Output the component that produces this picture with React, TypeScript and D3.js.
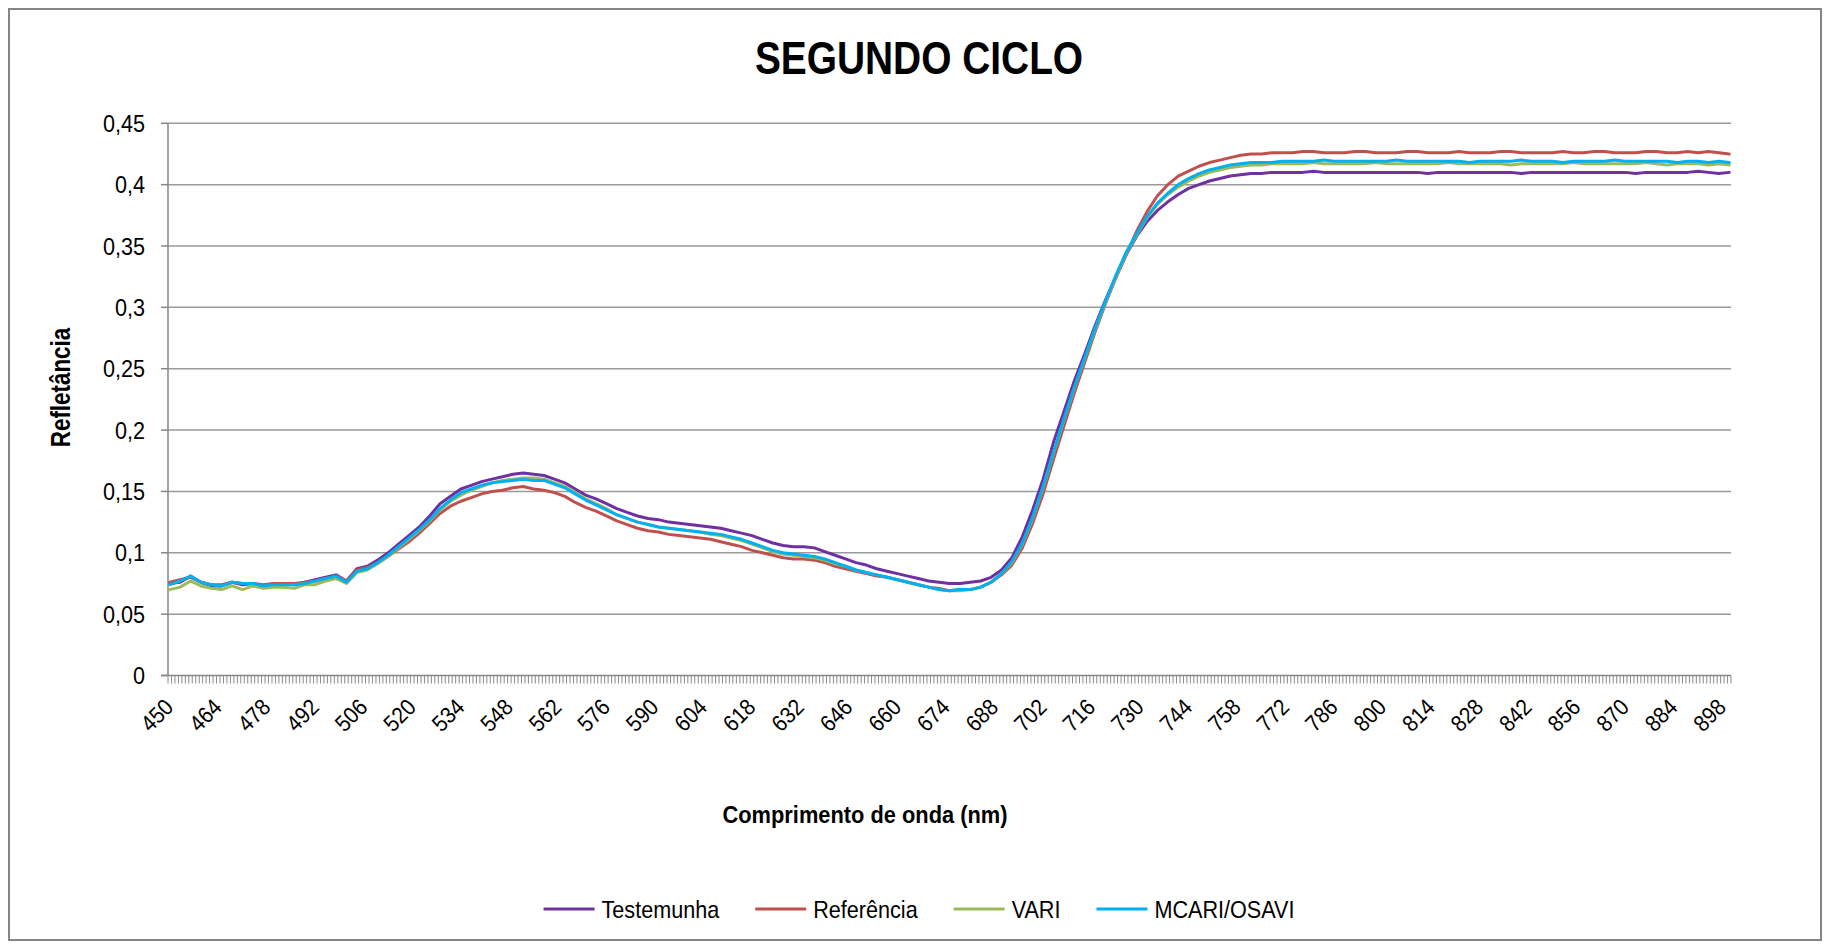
import { useEffect, useRef } from "react"
import * as d3 from "d3"

// category axis: one category per nm, labels every 14 nm
const categories = d3.range(450, 901)
const tickLabels = d3.range(450, 900, 14)
const sampleNm = d3.range(450, 901, 3)

const yTicks = [0, 0.05, 0.1, 0.15, 0.2, 0.25, 0.3, 0.35, 0.4, 0.45]
const yTickLabels = ["0", "0,05", "0,1", "0,15", "0,2", "0,25", "0,3", "0,35", "0,4", "0,45"]

const seriesNames = ["Testemunha", "Referência", "VARI", "MCARI/OSAVI"]
const seriesColors = ["#7030A0", "#C0504D", "#9BBB59", "#00B0F0"]

const testemunha = [
  0.075, 0.076, 0.081, 0.076, 0.073, 0.073, 0.076, 0.074, 0.075, 0.073,
  0.075, 0.075, 0.074, 0.076, 0.078, 0.080, 0.082, 0.077, 0.087, 0.089,
  0.094, 0.100, 0.107, 0.114, 0.121, 0.130, 0.140, 0.146, 0.152, 0.155,
  0.158, 0.160, 0.162, 0.164, 0.165, 0.164, 0.163, 0.160, 0.157, 0.152,
  0.147, 0.144, 0.140, 0.136, 0.133, 0.130, 0.128, 0.127, 0.125, 0.124,
  0.123, 0.122, 0.121, 0.120, 0.118, 0.116, 0.114, 0.111, 0.108, 0.106,
  0.105, 0.105, 0.104, 0.101, 0.098, 0.095, 0.092, 0.090, 0.087, 0.085,
  0.083, 0.081, 0.079, 0.077, 0.076, 0.075, 0.075, 0.076, 0.077, 0.080,
  0.086, 0.096, 0.113, 0.135, 0.160, 0.190, 0.215, 0.240, 0.262, 0.285,
  0.306, 0.325, 0.343, 0.358, 0.370, 0.379, 0.386, 0.392, 0.397, 0.400,
  0.403, 0.405, 0.407, 0.408, 0.409, 0.409, 0.410,
  0.410, 0.410, 0.410, 0.411, 0.410, 0.410, 0.410, 0.410, 0.410, 0.410,
  0.410, 0.410, 0.410, 0.410, 0.409, 0.410, 0.410, 0.410, 0.410, 0.410,
  0.410, 0.410, 0.410, 0.409, 0.410, 0.410, 0.410, 0.410, 0.410, 0.410,
  0.410, 0.410, 0.410, 0.410, 0.409, 0.410, 0.410, 0.410, 0.410, 0.410,
  0.411, 0.410, 0.409, 0.410,
]

const referencia = [
  0.076, 0.078, 0.080, 0.076, 0.074, 0.074, 0.076, 0.075, 0.075, 0.074,
  0.075, 0.075, 0.075, 0.076, 0.077, 0.079, 0.081, 0.077, 0.086, 0.088,
  0.092, 0.097, 0.103, 0.109, 0.116, 0.124, 0.132, 0.138, 0.142, 0.145,
  0.148, 0.150, 0.151, 0.153, 0.154, 0.152, 0.151, 0.149, 0.146, 0.141,
  0.137, 0.134, 0.130, 0.126, 0.123, 0.120, 0.118, 0.117, 0.115, 0.114,
  0.113, 0.112, 0.111, 0.109, 0.107, 0.105, 0.102, 0.100, 0.098, 0.096,
  0.095, 0.095, 0.094, 0.092, 0.089, 0.087, 0.085, 0.083, 0.081, 0.080,
  0.078, 0.076, 0.074, 0.072, 0.071, 0.069, 0.070, 0.070, 0.072, 0.076,
  0.082, 0.090, 0.104, 0.124, 0.148, 0.176, 0.203, 0.230, 0.255, 0.280,
  0.303, 0.324, 0.343, 0.362, 0.378, 0.391, 0.400, 0.407, 0.411, 0.415,
  0.418, 0.420, 0.422, 0.424, 0.425, 0.425, 0.426,
  0.426, 0.426, 0.427, 0.427, 0.426, 0.426, 0.426, 0.427, 0.427, 0.426,
  0.426, 0.426, 0.427, 0.427, 0.426, 0.426, 0.426, 0.427, 0.426, 0.426,
  0.426, 0.427, 0.427, 0.426, 0.426, 0.426, 0.426, 0.427, 0.426, 0.426,
  0.427, 0.427, 0.426, 0.426, 0.426, 0.427, 0.427, 0.426, 0.426, 0.427,
  0.426, 0.427, 0.426, 0.425,
]

const vari = [
  0.070, 0.072, 0.077, 0.073, 0.071, 0.070, 0.073, 0.070, 0.073, 0.071,
  0.072, 0.072, 0.071, 0.074, 0.074, 0.077, 0.079, 0.075, 0.084, 0.086,
  0.091, 0.097, 0.104, 0.111, 0.118, 0.126, 0.135, 0.142, 0.147, 0.151,
  0.154, 0.157, 0.159, 0.160, 0.161, 0.161, 0.160, 0.157, 0.154, 0.149,
  0.144, 0.140, 0.136, 0.131, 0.128, 0.125, 0.123, 0.121, 0.120, 0.119,
  0.118, 0.117, 0.115, 0.114, 0.112, 0.110, 0.107, 0.104, 0.101, 0.099,
  0.098, 0.097, 0.096, 0.094, 0.091, 0.089, 0.086, 0.084, 0.082, 0.080,
  0.078, 0.076, 0.074, 0.072, 0.070, 0.069, 0.069, 0.070, 0.072, 0.076,
  0.083, 0.092, 0.107, 0.128, 0.153, 0.181, 0.208, 0.234, 0.258, 0.282,
  0.304, 0.325, 0.344, 0.359, 0.373, 0.384, 0.392, 0.398, 0.403, 0.407,
  0.410, 0.412, 0.414, 0.415, 0.416, 0.416, 0.417,
  0.417, 0.417, 0.417, 0.418, 0.417, 0.417, 0.417, 0.417, 0.417, 0.418,
  0.417, 0.417, 0.417, 0.417, 0.417, 0.417, 0.418, 0.417, 0.417, 0.417,
  0.417, 0.417, 0.416, 0.417, 0.417, 0.417, 0.417, 0.417, 0.418, 0.417,
  0.417, 0.417, 0.417, 0.417, 0.417, 0.418, 0.417, 0.416, 0.417, 0.417,
  0.417, 0.416, 0.417, 0.416,
]

const mcariOsavi = [
  0.074, 0.077, 0.081, 0.076, 0.074, 0.073, 0.076, 0.075, 0.075, 0.073,
  0.074, 0.074, 0.074, 0.075, 0.077, 0.079, 0.081, 0.076, 0.085, 0.087,
  0.092, 0.098, 0.105, 0.112, 0.119, 0.127, 0.136, 0.143, 0.149, 0.152,
  0.155, 0.157, 0.158, 0.159, 0.160, 0.159, 0.159, 0.156, 0.153, 0.148,
  0.143, 0.139, 0.135, 0.131, 0.128, 0.125, 0.123, 0.121, 0.120, 0.119,
  0.118, 0.117, 0.116, 0.115, 0.113, 0.111, 0.108, 0.105, 0.102, 0.100,
  0.099, 0.098, 0.097, 0.095, 0.092, 0.089, 0.086, 0.084, 0.082, 0.080,
  0.078, 0.076, 0.074, 0.072, 0.070, 0.069, 0.070, 0.070, 0.072, 0.076,
  0.083, 0.093, 0.108, 0.129, 0.154, 0.182, 0.209, 0.235, 0.259, 0.283,
  0.305, 0.326, 0.345, 0.360, 0.374, 0.385, 0.393, 0.400, 0.405, 0.409,
  0.412, 0.414, 0.416, 0.417, 0.418, 0.418, 0.418,
  0.419, 0.419, 0.419, 0.419, 0.420, 0.419, 0.419, 0.419, 0.419, 0.419,
  0.419, 0.420, 0.419, 0.419, 0.419, 0.419, 0.419, 0.419, 0.418, 0.419,
  0.419, 0.419, 0.419, 0.420, 0.419, 0.419, 0.419, 0.418, 0.419, 0.419,
  0.419, 0.419, 0.420, 0.419, 0.419, 0.419, 0.419, 0.419, 0.418, 0.419,
  0.419, 0.418, 0.419, 0.418,
]

const FONT = "'Liberation Sans', Arial, sans-serif"

export default function App() {
  const svgRef = useRef<SVGSVGElement>(null)

  useEffect(() => {
    const width = 1827, height = 946
    const margin = { top: 123.3, right: 96, bottom: 270.5, left: 168 }
    const x0 = margin.left, x1 = width - margin.right
    const y0 = height - margin.bottom, y1 = margin.top

    const svg = d3.select(svgRef.current)
    svg.selectAll("*").remove()

    svg.append("rect").attr("width", width).attr("height", height).attr("fill", "#fff")
    // chart frame
    svg.append("rect")
      .attr("x", 9).attr("y", 9)
      .attr("width", 1812).attr("height", 931)
      .attr("fill", "none").attr("stroke", "#868686").attr("stroke-width", 2)

    const x = d3.scaleBand<number>().domain(categories).range([x0, x1])
    const y = d3.scaleLinear().domain([0, 0.45]).range([y0, y1])
    const cx = (c: number) => (x(c) as number) + x.bandwidth() / 2

    // horizontal gridlines
    svg.append("g")
      .selectAll("line")
      .data(yTicks.filter(d => d > 0))
      .join("line")
        .attr("x1", x0).attr("x2", x1)
        .attr("y1", d => y(d)).attr("y2", d => y(d))
        .attr("stroke", "#9a9a9a").attr("stroke-width", 1.5)

    // y axis
    svg.append("line")
      .attr("x1", x0).attr("x2", x0).attr("y1", y1).attr("y2", y0)
      .attr("stroke", "#868686").attr("stroke-width", 1.5)
    svg.append("g")
      .selectAll("line")
      .data(yTicks)
      .join("line")
        .attr("x1", x0 - 7).attr("x2", x0)
        .attr("y1", d => y(d)).attr("y2", d => y(d))
        .attr("stroke", "#868686").attr("stroke-width", 1.5)
    svg.append("g")
      .selectAll("text")
      .data(yTicks)
      .join("text")
        .attr("transform", d => `translate(${x0 - 23},${y(d)}) scale(0.9,1)`)
        .attr("dy", "0.36em")
        .attr("text-anchor", "end")
        .style("font-family", FONT).style("font-size", "24px").attr("fill", "#000")
        .text((d, i) => yTickLabels[i])

    // x axis with a tick between every category
    svg.append("line")
      .attr("x1", x0 - 7).attr("x2", x1).attr("y1", y0).attr("y2", y0)
      .attr("stroke", "#868686").attr("stroke-width", 1.5)
    svg.append("g")
      .selectAll("line")
      .data([...categories.map(c => x(c) as number), x1])
      .join("line")
        .attr("x1", d => d).attr("x2", d => d)
        .attr("y1", y0).attr("y2", y0 + 8)
        .attr("stroke", "#8a8a8a").attr("stroke-width", 1)
    svg.append("g")
      .selectAll("text")
      .data(tickLabels)
      .join("text")
        .attr("transform", d => `translate(${cx(d) + 5},${y0 + 33}) rotate(-45) scale(0.9,1)`)
        .attr("text-anchor", "end")
        .style("font-family", FONT).style("font-size", "23px").attr("fill", "#000")
        .text(d => d)

    // series
    const allSeries = [testemunha, referencia, vari, mcariOsavi]
    const line = d3.line<number>()
      .x((d, i) => cx(sampleNm[i]))
      .y(d => y(d))
    svg.append("g")
      .selectAll("path")
      .data(allSeries)
      .join("path")
        .attr("d", d => line(d))
        .attr("fill", "none")
        .attr("stroke", (d, i) => seriesColors[i])
        .attr("stroke-width", 3)
        .attr("stroke-linejoin", "round")
        .attr("stroke-linecap", "round")

    // title
    svg.append("text")
      .attr("transform", `translate(919,74) scale(0.845,1)`)
      .attr("text-anchor", "middle")
      .style("font-family", FONT).style("font-size", "46px").style("font-weight", "bold")
      .text("SEGUNDO CICLO")

    // y-axis label
    svg.append("text")
      .attr("transform", `translate(70,387.5) rotate(-90) scale(0.83,1)`)
      .attr("text-anchor", "middle")
      .style("font-family", FONT).style("font-size", "27px").style("font-weight", "bold")
      .text("Refletância")

    // x-axis label
    svg.append("text")
      .attr("transform", `translate(865,823) scale(0.91,1)`)
      .attr("text-anchor", "middle")
      .style("font-family", FONT).style("font-size", "24px").style("font-weight", "bold")
      .text("Comprimento de onda (nm)")

    // legend, centred under the chart
    const legend = svg.append("g")
    const keyLen = 51, keyGap = 7, itemGap = 36, sx = 0.9
    let pos = 0
    seriesNames.forEach((name, i) => {
      const item = legend.append("g").attr("transform", `translate(${pos},0)`)
      item.append("line")
        .attr("x1", 0).attr("x2", keyLen).attr("y1", 0).attr("y2", 0)
        .attr("stroke", seriesColors[i]).attr("stroke-width", 3)
      const t = item.append("text")
        .attr("transform", `translate(${keyLen + keyGap},8.5) scale(${sx},1)`)
        .style("font-family", FONT).style("font-size", "24px")
        .text(name)
      const w = (t.node() as SVGTextElement).getComputedTextLength() * sx
      pos += keyLen + keyGap + w + itemGap
    })
    const total = pos - itemGap
    legend.attr("transform", `translate(${919 - total / 2},909)`)
  }, [])

  return (
    <svg
      ref={svgRef}
      width={1827}
      height={946}
      style={{ position: "absolute", left: 0, top: 0, display: "block" }}
    ></svg>
  )
}
